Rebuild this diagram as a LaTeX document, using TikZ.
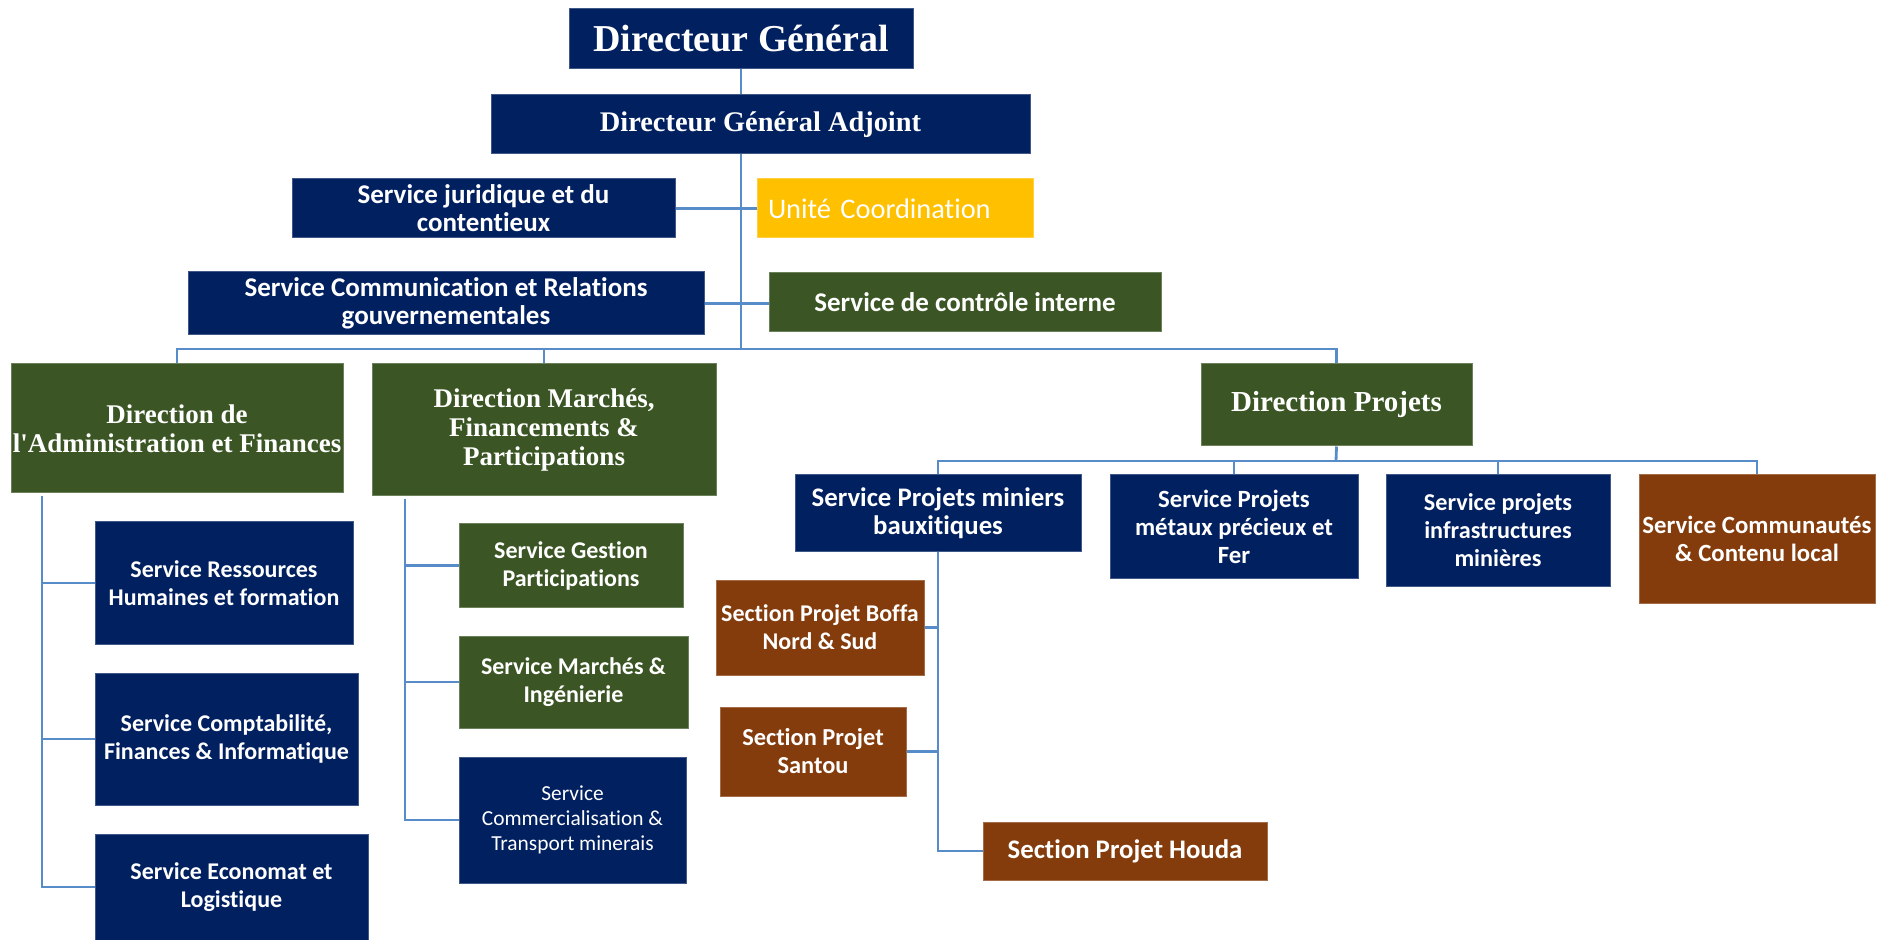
\documentclass[tikz,border=0pt]{standalone}
\usepackage{fontspec}
\setmainfont{Liberation Serif}
\newfontfamily\calibri[Ligatures={NoCommon}]{Carlito}
\definecolor{navy}{RGB}{0,32,96}
\definecolor{leaf}{RGB}{59,86,36}
\definecolor{rust}{RGB}{132,60,12}
\definecolor{amber}{RGB}{255,192,0}
\definecolor{wire}{RGB}{88,140,200}
\tikzset{
  box/.style={rectangle, inner sep=0pt, text=white, align=center, draw=#1!75!white, line width=0.5pt, fill=#1},
  head/.style={font=\bfseries\fontsize{#1}{14.3}\selectfont},
  serv/.style={font=\calibri\bfseries\fontsize{#1}{14}\selectfont},
  serv/.default=12,
  wires/.style={draw=wire, line width=1.4pt}
}
\begin{document}
\begin{tikzpicture}[x=0.5pt,y=-0.5pt]
\useasboundingbox (0,0) rectangle (1878,940);

% top
\node[box=navy, minimum width=172pt, minimum height=30pt, font=\bfseries\fontsize{19}{21}\selectfont] (dg) at (741,39) {Directeur Général};
\node[box=navy, minimum width=269.5pt, minimum height=29.5pt, font=\bfseries\fontsize{14.2}{16}\selectfont] (dga) at (760.5,124.5) {Directeur Général Adjoint};
\node[box=navy, serv=13.5, minimum width=191.5pt, minimum height=29.5pt] (sjc) at (483.5,208.5) {Service juridique et du\\contentieux};
\node[box=amber, minimum height=29.5pt, inner xsep=5.5pt, text width=127pt, align=left, font=\calibri\fontsize{14.2}{16}\selectfont] (uc) at (895,208.5) {Unité Coordination};
\node[box=navy, serv=13.5, minimum width=258pt, minimum height=31.5pt] (scrg) at (446,303.5) {Service Communication et Relations\\gouvernementales};
\node[box=leaf, serv=13.5, minimum width=196pt, minimum height=29.5pt] (sci) at (965,302.5) {Service de contrôle interne};

% directions
\node[box=leaf, head=13.5, minimum width=166pt, minimum height=64.5pt] (daf) at (177,428.5) {Direction de\\l\textquotesingle Administration et Finances};
\node[box=leaf, head=13.5, minimum width=172pt, minimum height=66pt] (dmfp) at (544,430) {Direction Marchés,\\Financements \&\\Participations};
\node[box=leaf, head=14.5, minimum width=135.5pt, minimum height=41pt] (dp) at (1336.5,405) {Direction Projets};

% services DAF
\node[box=navy, serv, minimum width=129pt, minimum height=61pt] (srh) at (224,583) {Service Ressources\\Humaines et formation};
\node[box=navy, serv, minimum width=131.5pt, minimum height=66pt] (scfi) at (226.5,739) {Service Comptabilité,\\Finances \& Informatique};
\node[box=navy, serv, minimum width=136.5pt, minimum height=53pt] (sel) at (231.5,887) {Service Economat et\\Logistique};

% services DMFP
\node[box=leaf, serv, minimum width=112pt, minimum height=41.5pt] (sgp) at (571,565.5) {Service Gestion\\Participations};
\node[box=leaf, serv, minimum width=114.5pt, minimum height=46pt] (smi) at (573.5,682) {Service Marchés \&\\Ingénierie};
\node[box=navy, minimum width=113.5pt, minimum height=63pt, font=\calibri\fontsize{10.7}{12.5}\selectfont] (sctm) at (572.5,820) {Service\\Commercialisation \&\\Transport minerais};

% services DP
\node[box=navy, serv=13.4, minimum width=143pt, minimum height=38pt] (spmb) at (938,513) {Service Projets miniers\\bauxitiques};
\node[box=navy, serv=12.4, minimum width=124pt, minimum height=51.5pt] (spmpf) at (1234,526.5) {Service Projets\\métaux précieux et\\Fer};
\node[box=navy, serv=12.1, minimum width=112pt, minimum height=55.5pt] (spim) at (1498,530.5) {Service projets\\infrastructures\\minières};
\node[box=rust, serv=12.4, minimum width=118pt, minimum height=64pt] (sccl) at (1757,539) {Service Communautés\\\& Contenu local};

% sections
\node[box=rust, serv, minimum width=104pt, minimum height=47.5pt] (boffa) at (820,627.5) {Section Projet Boffa\\Nord \& Sud};
\node[box=rust, serv=12.2, minimum width=93pt, minimum height=44.5pt] (santou) at (813,751.5) {Section Projet\\Santou};
\node[box=rust, serv=13.4, minimum width=142pt, minimum height=29pt] (houda) at (1125,851) {Section Projet Houda};

% connectors
\coordinate (hub) at (741,349);
\coordinate (hubp) at (1336,461);
\coordinate (daft) at (42,496);
\coordinate (dmfpt) at (405,499);
\draw[wires] (dg.south) -- (dg.south |- dga.north);
\draw[wires] (dg.south |- dga.south) -- (hub);
\draw[wires] (sjc.east) -- (sjc.east -| uc.west);
\draw[wires] (scrg.east) -- (scrg.east -| sci.west);
\draw[wires] (hub) -| (daf.north);
\draw[wires] (hub) -| (dmfp.north);
\draw[wires] (hub) -| (dp.north);
\draw[wires] (dp.south) -- (hubp);
\draw[wires] (hubp) -| (spmb.north);
\draw[wires] (hubp) -| (spmpf.north);
\draw[wires] (hubp) -| (spim.north);
\draw[wires] (hubp) -| (sccl.north);
\foreach \n in {srh,scfi,sel}{
\draw[wires] (daft) |- (\n.west);
}
\foreach \n in {sgp,smi,sctm}{
\draw[wires] (dmfpt) |- (\n.west);
}
\draw[wires] (spmb.south) |- (boffa.east);
\draw[wires] (spmb.south) |- (santou.east);
\draw[wires] (spmb.south) |- (houda.west);
\end{tikzpicture}
\end{document}
